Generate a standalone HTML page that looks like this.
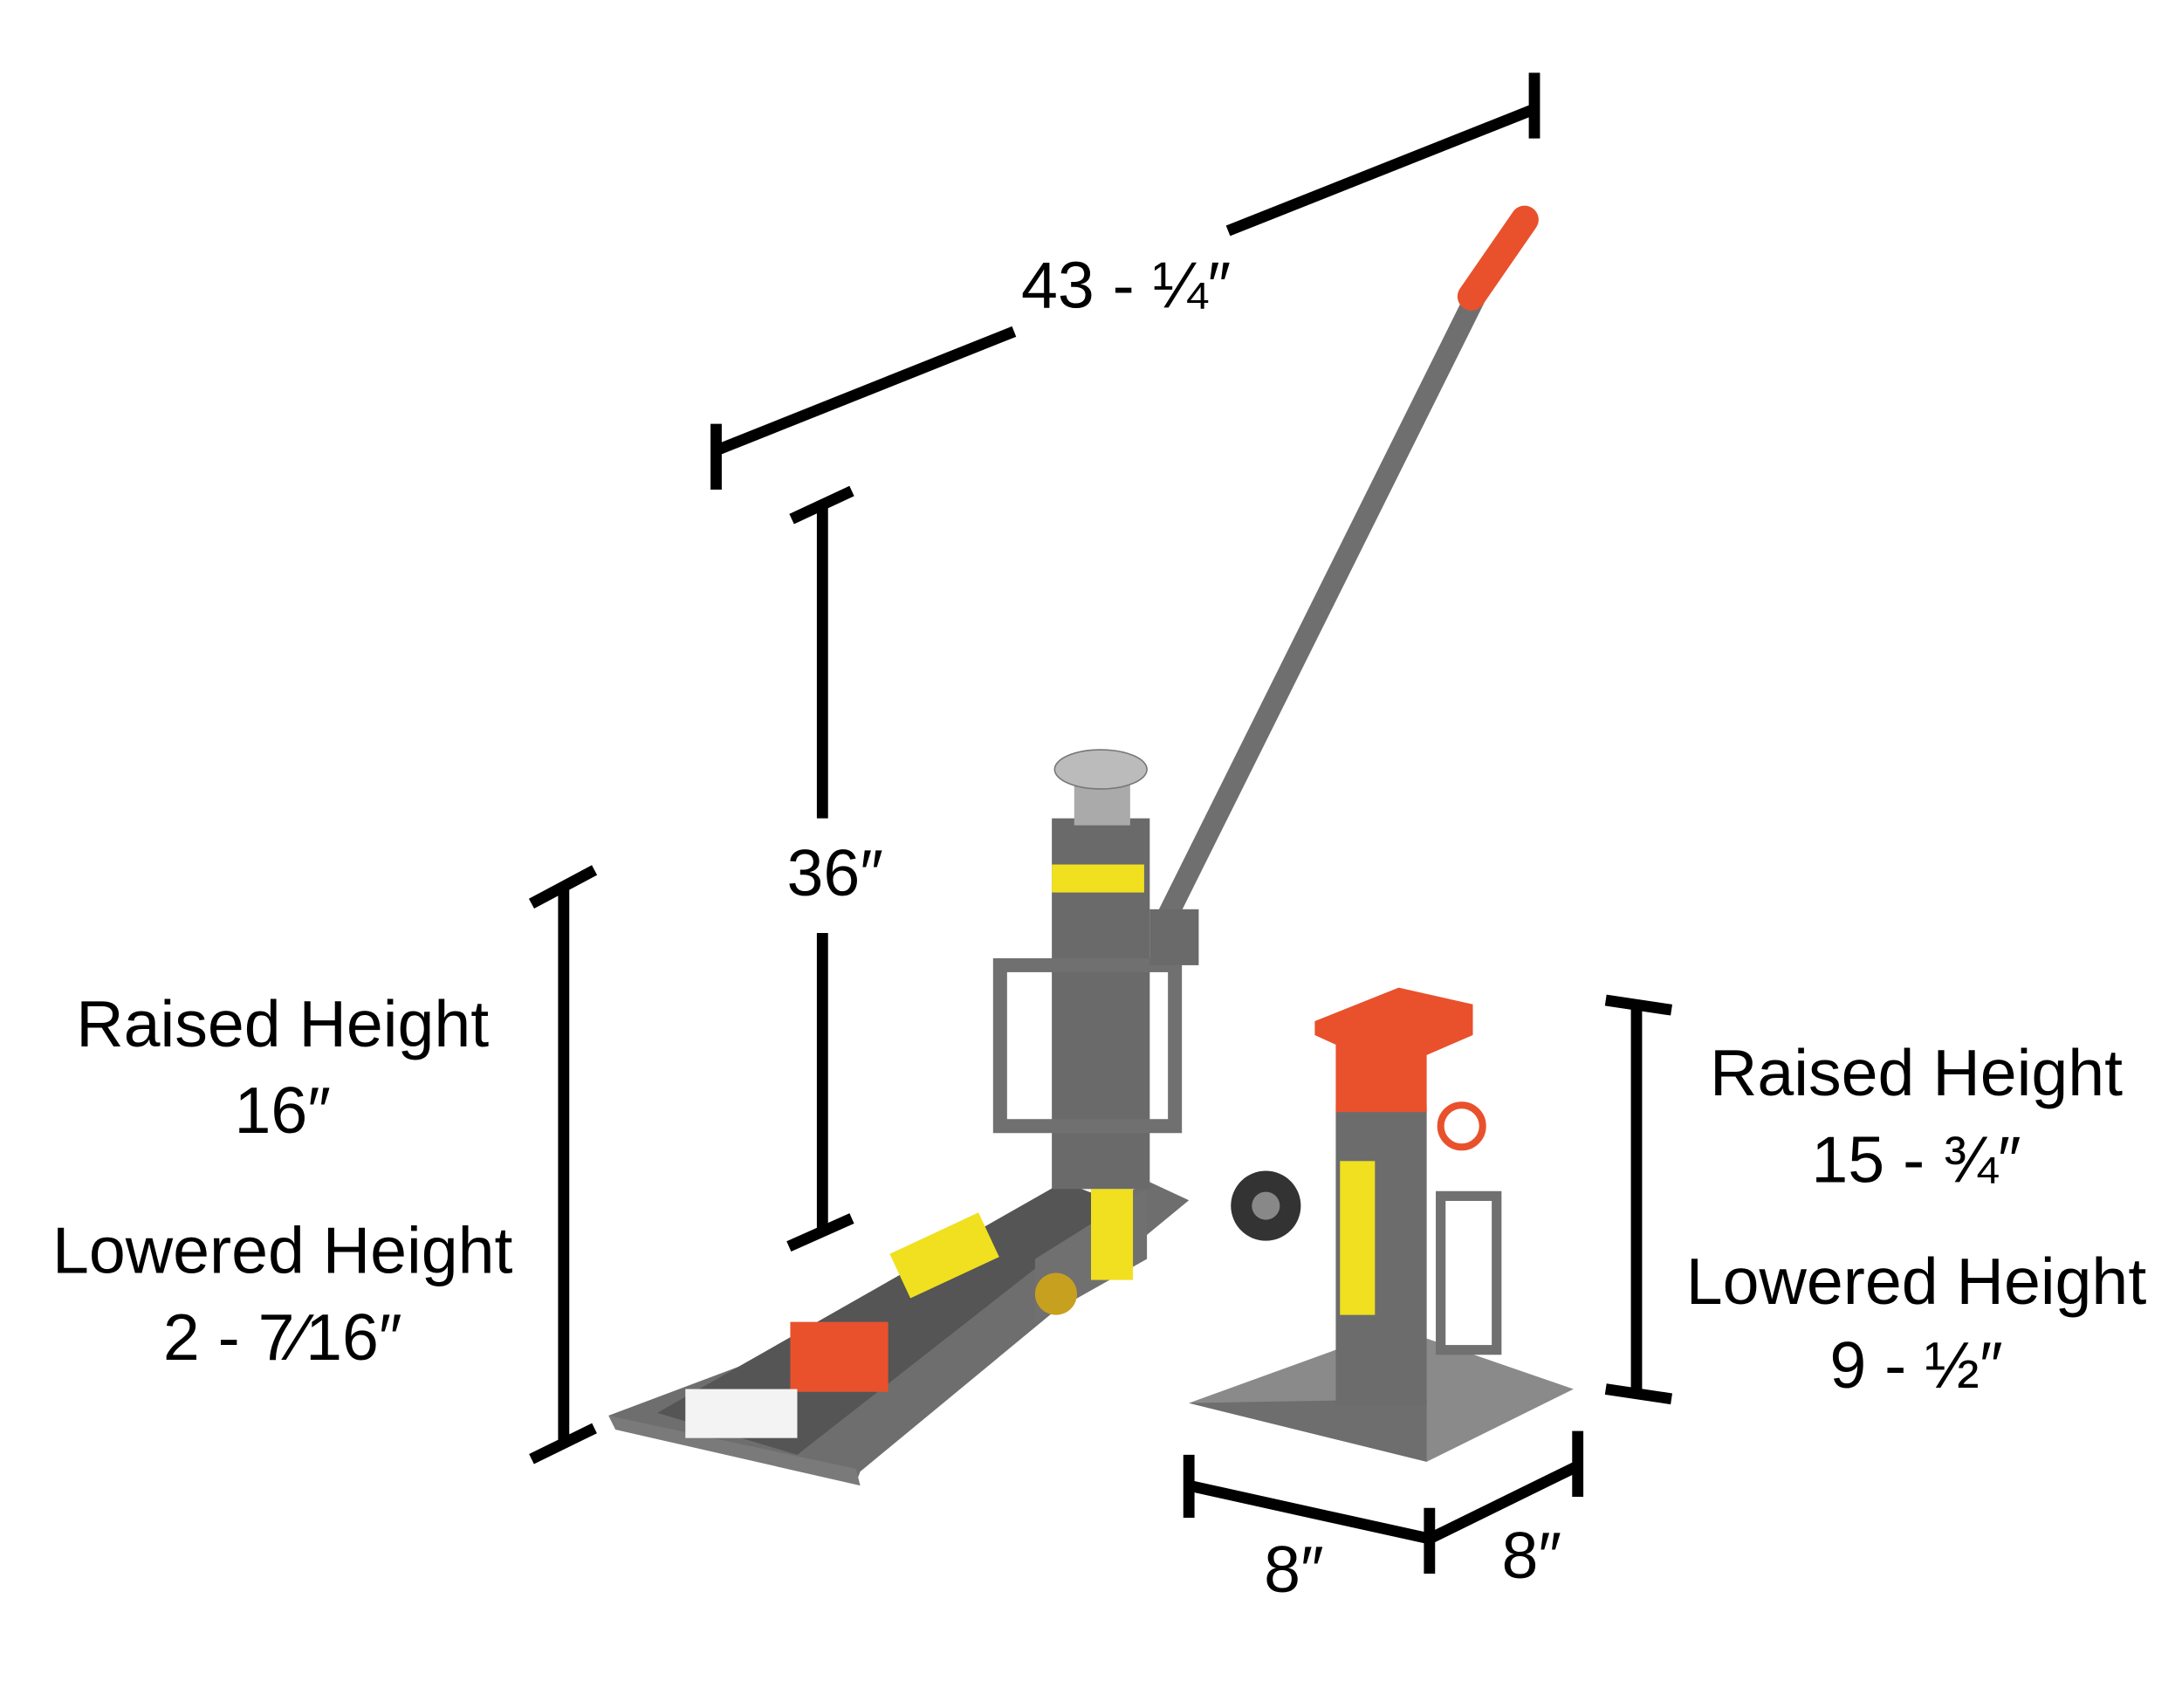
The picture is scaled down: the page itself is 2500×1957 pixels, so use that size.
<!DOCTYPE html>
<html><head><meta charset="utf-8"><style>
html,body{margin:0;padding:0;background:#fff;}
svg{display:block;}
text{font-family:"Liberation Sans",sans-serif;fill:#000;}
</style></head><body>
<svg width="2500" height="1957" viewBox="0 0 1560 1221" preserveAspectRatio="none" xmlns="http://www.w3.org/2000/svg">
<g stroke="#000" stroke-width="8" fill="none" stroke-linecap="butt">
  <line x1="512" y1="322" x2="725" y2="237"/>
  <line x1="878" y1="165" x2="1097" y2="78"/>
  <line x1="512" y1="303" x2="512" y2="350"/>
  <line x1="1097" y1="52" x2="1097" y2="99"/>
  <line x1="588" y1="360" x2="588" y2="585"/>
  <line x1="588" y1="667" x2="588" y2="882"/>
  <line x1="566" y1="371" x2="609" y2="351"/>
  <line x1="564" y1="891" x2="609" y2="871"/>
  <line x1="403" y1="633" x2="403" y2="1033"/>
  <line x1="380" y1="646" x2="425" y2="622"/>
  <line x1="380" y1="1043" x2="425" y2="1021"/>
  <line x1="1170" y1="718" x2="1170" y2="997"/>
  <line x1="1148" y1="715" x2="1195" y2="722"/>
  <line x1="1148" y1="993" x2="1195" y2="1000"/>
  <polyline points="850,1062 1022,1100 1128,1048"/>
  <line x1="850" y1="1040" x2="850" y2="1085"/>
  <line x1="1022" y1="1078" x2="1022" y2="1125"/>
  <line x1="1128" y1="1023" x2="1128" y2="1070"/>
</g>
<g>
  <line x1="832" y1="660" x2="1055" y2="212" stroke="#6f6f6f" stroke-width="15" stroke-linecap="round"/>
  <line x1="1052" y1="212" x2="1090" y2="157" stroke="#e8512c" stroke-width="20" stroke-linecap="round"/>
  <polygon points="435,1012 612,1060 615,1052 850,858 822,845 560,965" fill="#6e6e6e"/>
  <polygon points="470,1010 570,1040 800,860 760,845" fill="#555"/>
  <polygon points="435,1012 612,1050 615,1062 440,1022" fill="#7a7a7a"/>
  <rect x="752" y="585" width="70" height="265" fill="#6a6a6a"/>
  <rect x="768" y="555" width="40" height="35" fill="#aaa"/>
  <ellipse cx="787" cy="550" rx="33" ry="14" fill="#bbb" stroke="#777"/>
  <rect x="715" y="690" width="125" height="115" fill="none" stroke="#707070" stroke-width="10"/>
  <rect x="752" y="618" width="66" height="20" fill="#f0e020"/>
  <rect x="822" y="650" width="35" height="40" fill="#6a6a6a"/>
  <polygon points="740,900 820,850 820,900 740,945" fill="#707070"/>
  <circle cx="905" cy="862" r="25" fill="#333"/>
  <circle cx="905" cy="862" r="10" fill="#888"/>
  <rect x="565" y="945" width="70" height="50" fill="#e8512c"/>
  <rect x="640" y="880" width="70" height="35" fill="#f0e020" transform="rotate(-25 675 897)"/>
  <rect x="780" y="850" width="30" height="65" fill="#f0e020"/>
  <circle cx="755" cy="925" r="15" fill="#c8a020"/>
  <rect x="490" y="993" width="80" height="35" fill="#f3f3f3"/>
</g>
<g>
  <polygon points="850,1003 1020,1045 1125,993 1000,950 955,965" fill="#8a8a8a"/>
  <polygon points="850,1003 1020,1045 1020,1000" fill="#6e6e6e"/>
  <rect x="955" y="790" width="65" height="215" fill="#6c6c6c"/>
  <rect x="958" y="830" width="25" height="110" fill="#f0e020"/>
  <polygon points="940,730 1000,706 1053,718 1053,740 995,765 940,740" fill="#e8512c"/>
  <rect x="955" y="740" width="65" height="55" fill="#e8512c"/>
  <circle cx="1045" cy="805" r="15" fill="none" stroke="#e8512c" stroke-width="5"/>
  <rect x="1030" y="855" width="40" height="110" fill="none" stroke="#707070" stroke-width="7"/>
</g>
<g font-size="47" text-anchor="middle">
  <text x="805" y="220">43 - ¼″</text>
  <text x="597" y="640">36″</text>
  <text x="202" y="748">Raised Height</text>
  <text x="202" y="810">16″</text>
  <text x="202" y="910">Lowered Height</text>
  <text x="202" y="972">2 - 7⁄16″</text>
  <text x="1370" y="783">Raised Height</text>
  <text x="1370" y="845">15 - ¾″</text>
  <text x="1370" y="932">Lowered Height</text>
  <text x="1370" y="992">9 - ½″</text>
  <text x="925" y="1138">8″</text>
  <text x="1095" y="1128">8″</text>
</g>
</svg>
</body></html>
